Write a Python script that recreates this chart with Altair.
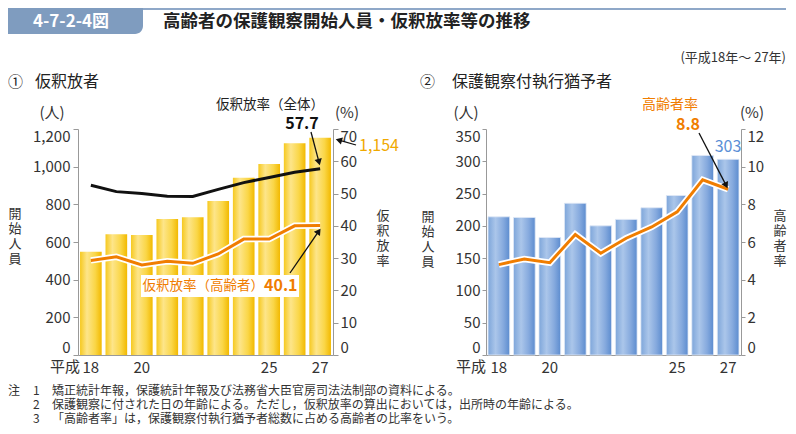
import math
import altair as alt
import pandas as pd

# ---------------- data ----------------
years = ["18", "19", "20", "21", "22", "23", "24", "25", "26", "27"]
parolees_elderly = [548, 641, 637, 722, 731, 818, 941, 1014, 1124, 1154]
parole_rate_all = [52.6, 50.6, 50.0, 49.2, 49.1, 51.3, 53.4, 55.0, 56.6, 57.7]
parole_rate_elderly = [29.3, 30.4, 27.9, 29.0, 28.4, 31.3, 35.9, 35.9, 40.0, 40.1]
probation_elderly = [214, 213, 182, 235, 200, 210, 228, 247, 309, 303]
elderly_share = [4.8, 5.1, 4.9, 6.4, 5.4, 6.2, 6.8, 7.6, 9.3, 8.8]

left_count_ticks = [0, 200, 400, 600, 800, 1000, 1200]
left_rate_ticks = [0, 10, 20, 30, 40, 50, 60, 70]
right_count_ticks = [0, 50, 100, 150, 200, 250, 300, 350]
right_rate_ticks = [0, 2, 4, 6, 8, 10, 12]
shown_year_labels = ["18", "20", "25", "27"]

FONT = "Noto Sans CJK JP"
ORANGE = "#f07d00"
GOLD_TXT = "#f0a900"
BLUE_TXT = "#5b8fd6"
W, H = 255, 226

df1 = pd.DataFrame({"year": years, "n": parolees_elderly,
                    "all": parole_rate_all, "eld": parole_rate_elderly})
df2 = pd.DataFrame({"year": years, "n": probation_elderly, "share": elderly_share})

gold = alt.Gradient(gradient="linear", x1=0, x2=1, y1=0, y2=0, stops=[
    alt.GradientStop(color="#f6c91f", offset=0),
    alt.GradientStop(color="#fde58a", offset=0.32),
    alt.GradientStop(color="#fad647", offset=0.7),
    alt.GradientStop(color="#f2b900", offset=1)])
blue = alt.Gradient(gradient="linear", x1=0, x2=1, y1=0, y2=0, stops=[
    alt.GradientStop(color="#7ea6da", offset=0),
    alt.GradientStop(color="#abc6ea", offset=0.35),
    alt.GradientStop(color="#86aade", offset=0.7),
    alt.GradientStop(color="#5c8ccf", offset=1)])

label_expr = "indexof(%s, datum.value) >= 0 ? datum.value : ''" % str(shown_year_labels)


def xenc():
    return alt.X("year:N", sort=years,
                 scale=alt.Scale(paddingInner=0.15, paddingOuter=0.08),
                 axis=alt.Axis(title=None, labelExpr=label_expr, ticks=False,
                               labelAngle=0, labelPadding=5, domainColor="#999"))


def one():
    return pd.DataFrame({"t": [0]})


def txt(s, x, y, size=14, color="#222", align="center", weight="normal", baseline="middle"):
    return alt.Chart(pd.DataFrame({"t": [s]})).mark_text(
        font=FONT, fontSize=size, color=color, align=align, baseline=baseline,
        fontWeight=weight).encode(x=alt.value(x), y=alt.value(y), text="t:N")


def vtxt(chars, x, y, size=13, color="#222"):
    return alt.Chart(one()).mark_text(
        text=list(chars), font=FONT, fontSize=size, lineHeight=15, color=color,
        align="center", baseline="top").encode(x=alt.value(x), y=alt.value(y))


def arrow(x0, y0, x1, y1, color="#111"):
    dx, dy = x1 - x0, y1 - y0
    L = math.hypot(dx, dy)
    ux, uy = dx / L, dy / L
    ang = math.degrees(math.atan2(dx, -dy)) % 360
    rule = alt.Chart(one()).mark_rule(color=color, strokeWidth=1.3).encode(
        x=alt.value(x0), y=alt.value(y0),
        x2=alt.value(x1 - 6 * ux), y2=alt.value(y1 - 6 * uy))
    head = alt.Chart(one()).mark_point(shape="triangle-up", filled=True, size=55,
                                       angle=ang, color=color, opacity=1).encode(
        x=alt.value(x1 - 4 * ux), y=alt.value(y1 - 4 * uy))
    return [rule, head]


def rect(x, x2, y, y2, color, **kw):
    return alt.Chart(one()).mark_rect(color=color, **kw).encode(
        x=alt.value(x), x2=alt.value(x2), y=alt.value(y), y2=alt.value(y2))


FN = 12  # footnote font size
FY = [262, 276, 290]

# ---------------- left panel: 仮釈放者 ----------------
bars1 = alt.Chart(df1).mark_bar(color=gold).encode(
    x=xenc(),
    y=alt.Y("n:Q", scale=alt.Scale(domain=[0, 1200], nice=False),
            axis=alt.Axis(title=None, values=left_count_ticks, format=",.0f",
                          tickSize=5, labelPadding=3, labelFlush=True)))
rate_axis1 = alt.Axis(title=None, orient="right", values=left_rate_ticks,
                      tickSize=5, labelPadding=2, labelFlush=True)
yscale1 = alt.Scale(domain=[0, 70], nice=False)
line_all = alt.Chart(df1).mark_line(color="#111", strokeWidth=3).encode(
    x=xenc(), y=alt.Y("all:Q", scale=yscale1, axis=rate_axis1))
halo_eld = alt.Chart(df1).mark_line(color="white", strokeWidth=6.5).encode(
    x=xenc(), y=alt.Y("eld:Q", scale=yscale1, axis=rate_axis1))
line_eld = alt.Chart(df1).mark_line(color=ORANGE, strokeWidth=3).encode(
    x=xenc(), y=alt.Y("eld:Q", scale=yscale1, axis=rate_axis1))
lines1 = alt.layer(line_all, halo_eld, line_eld)

annot_left = [
    # header
    rect(-70, 65, -121, -95, "#7f9cbf", cornerRadiusBottomRight=8),
    alt.Chart(one()).mark_rule(color="#8fa8c8", strokeWidth=2).encode(
        x=alt.value(65), x2=alt.value(708), y=alt.value(-120), y2=alt.value(-120)),
    txt("4-7-2-4図", -7, -107, size=17, color="white", weight="bold"),
    txt("高齢者の保護観察開始人員・仮釈放率等の推移", 85, -107, size=17.5,
        color="#222", align="left", weight="bold"),
    txt("(平成18年～ 27年)", 708, -71, size=13, color="#333", align="right"),
    txt("①", -70, -47, size=15, color="#222", align="left"),
    txt("仮釈放者", -43, -47, size=16, color="#222", align="left"),
    # units and axis titles
    txt("(人)", -26, -16, size=15, color="#333"),
    txt("(%)", 269, -16, size=15, color="#333"),
    vtxt("開始人員", -63, 79, color="#333"),
    vtxt("仮釈放率", 305, 81, color="#333"),
    txt("平成", 2, 238, size=15, color="#333", align="right"),
    # annotations
    txt("仮釈放率（全体）", 192, -24, size=13.5, color="#222"),
    txt("57.7", 224, -5, size=16, color="#111", weight="bold"),
    *arrow(233, 3, 242, 37),
    txt("1,154", 281, 17, size=16, color=GOLD_TXT, align="left"),
    *arrow(278, 16, 257, 10),
    rect(63, 221, 146, 168, "white"),
    txt("仮釈放率（高齢者）", 186, 157, size=13.5, color=ORANGE, align="right"),
    txt("40.1", 186, 157, size=16, color=ORANGE, align="left", weight="bold"),
    *arrow(212, 144, 243, 99),
    # footnotes
    txt("注", -70, FY[0], size=FN, color="#333", align="left"),
    txt("1", -45, FY[0], size=FN, color="#333", align="left"),
    txt("矯正統計年報，保護統計年報及び法務省大臣官房司法法制部の資料による。",
        -26, FY[0], size=FN, color="#333", align="left"),
    txt("2", -45, FY[1], size=FN, color="#333", align="left"),
    txt("保護観察に付された日の年齢による。ただし，仮釈放率の算出においては，出所時の年齢による。",
        -26, FY[1], size=FN, color="#333", align="left"),
    txt("3", -45, FY[2], size=FN, color="#333", align="left"),
    txt("「高齢者率」は，保護観察付執行猶予者総数に占める高齢者の比率をいう。",
        -26, FY[2], size=FN, color="#333", align="left"),
]

left = alt.layer(alt.layer(bars1, lines1).resolve_scale(y="independent"),
                 *annot_left).properties(width=W, height=H)

# ---------------- right panel: 保護観察付執行猶予者 ----------------
bars2 = alt.Chart(df2).mark_bar(color=blue, stroke="#dfe9f6", strokeWidth=0.8).encode(
    x=xenc(),
    y=alt.Y("n:Q", scale=alt.Scale(domain=[0, 350], nice=False),
            axis=alt.Axis(title=None, values=right_count_ticks, tickSize=4,
                          labelPadding=2, labelFlush=True)))
rate_axis2 = alt.Axis(title=None, orient="right", values=right_rate_ticks,
                      tickSize=4, labelPadding=2, labelFlush=True)
yscale2 = alt.Scale(domain=[0, 12], nice=False)
halo2 = alt.Chart(df2).mark_line(color="white", strokeWidth=6.5).encode(
    x=xenc(), y=alt.Y("share:Q", scale=yscale2, axis=rate_axis2))
line2 = alt.Chart(df2).mark_line(color=ORANGE, strokeWidth=3).encode(
    x=xenc(), y=alt.Y("share:Q", scale=yscale2, axis=rate_axis2))
lines2 = alt.layer(halo2, line2)

annot_right = [
    txt("②", -66, -47, size=15, color="#222", align="left"),
    txt("保護観察付執行猶予者", -34, -47, size=16, color="#222", align="left"),
    txt("(人)", -20, -16, size=15, color="#333"),
    txt("(%)", 266, -16, size=15, color="#333"),
    vtxt("開始人員", -58, 82, color="#333"),
    vtxt("高齢者率", 294, 81, color="#333"),
    txt("平成", 0, 238, size=15, color="#333", align="right"),
    txt("高齢者率", 184, -24, size=14, color=ORANGE),
    txt("8.8", 202, -4, size=16, color=ORANGE, weight="bold"),
    *arrow(213, 4, 242, 60),
    txt("303", 242, 18, size=16, color=BLUE_TXT),
]

right = alt.layer(alt.layer(bars2, lines2).resolve_scale(y="independent"),
                  *annot_right).properties(width=W, height=H)

chart = alt.hconcat(left, right, spacing=153, bounds="flush").properties(
    padding=0
).configure_view(stroke=None).configure_axis(
    labelFont=FONT, labelFontSize=15, labelColor="#333",
    domainColor="#999", tickColor="#999", grid=False
)

chart.save("out.html", embed_options={"renderer": "svg", "actions": False})
